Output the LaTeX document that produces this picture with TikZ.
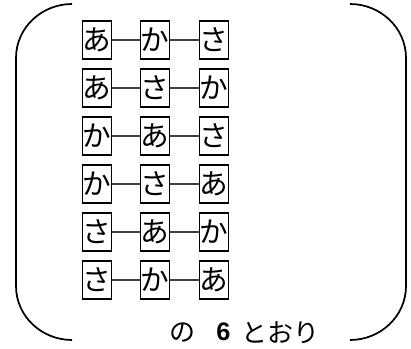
\documentclass[tikz,border=0pt]{standalone}
\usepackage{fontspec}
\newfontfamily\jpfont{Noto Sans CJK JP}
\newfontfamily\numfont{Liberation Sans}
\usepackage{tikz}

\tikzset{
  cell/.style={draw,line width=1pt,minimum width=21.75pt,minimum height=28.5pt,inner sep=0pt,font=\jpfont\fontsize{21.5}{21.5}\selectfont},
  link/.style={line width=0.8pt,black!75},
  brace/.style={line width=1.3pt}
}

\begin{document}
\begin{tikzpicture}[x=0.75pt,y=-0.75pt]
				\useasboundingbox (0,0) rectangle (411,349);

				% the two brackets
				\draw[brace] (72,4) to[out=180,in=90] (16,58) -- (16,286) to[out=-90,in=180] (72,340);
				\draw[brace] (350,4) to[out=0,in=90] (406,58) -- (406,286) to[out=-90,in=0] (350,340);

				\foreach \l/\m/\r [count=\q from 0] in {あ/か/さ,あ/さ/か,か/あ/さ,か/さ/あ,さ/あ/か,さ/か/あ}{
					\node[cell] (a\q) at (97.3,40+48*\q) {\l};
					\node[cell] (b\q) at (155.3,40+48*\q) {\m};
					\node[cell] (c\q) at (214,40+48*\q) {\r};
					\draw[link] (a\q) -- (b\q);
					\draw[link] (b\q) -- (c\q);
				}

				\node[font=\jpfont\fontsize{19.5}{19.5}\selectfont] (no) at (182,333) {の};
				\node[font=\numfont\bfseries\fontsize{19}{19}\selectfont] (six) at (223.5,332) {6};
				\node[font=\jpfont\fontsize{19.5}{19.5}\selectfont] (toori) at (280,333) {とおり};
\end{tikzpicture}
\end{document}
